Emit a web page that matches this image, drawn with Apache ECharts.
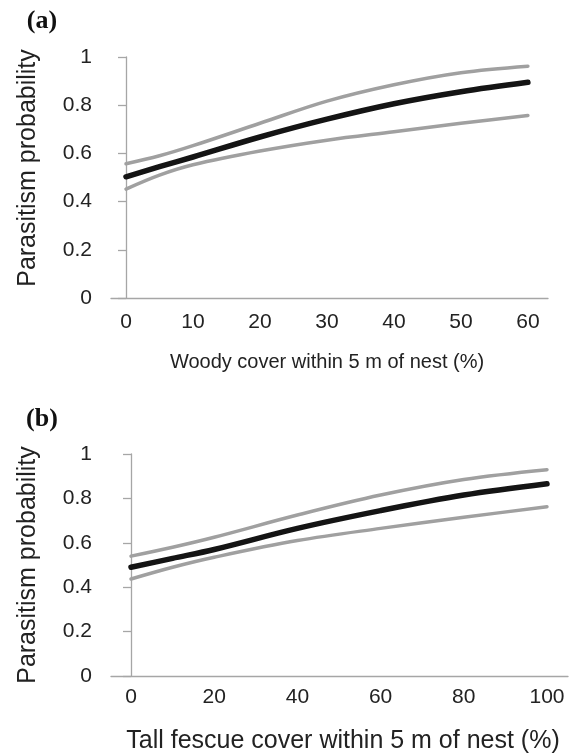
<!DOCTYPE html>
<html>
<head>
<meta charset="utf-8">
<script src="https://cdn.jsdelivr.net/npm/echarts@6/dist/echarts.min.js"></script>
<style>
    html, body { margin: 0; padding: 0; background: #fff; }
    #chart { width: 575px; height: 754px; }
</style>
</head>
<body>
<div id="chart"></div>
<script>
// panel (a): woody cover
var woodyX     = [0, 5, 10, 20, 30, 40, 50, 60];
var woodyMean  = [0.503, 0.545, 0.585, 0.668, 0.742, 0.806, 0.856, 0.895];
var woodyUpper = [0.557, 0.590, 0.632, 0.725, 0.817, 0.885, 0.935, 0.962];
var woodyLower = [0.452, 0.510, 0.553, 0.610, 0.655, 0.690, 0.725, 0.757];
var woodyTicks = [0, 10, 20, 30, 40, 50, 60];

// panel (b): tall fescue cover
var fescueX     = [0, 10, 20, 40, 60, 80, 100];
var fescueMean  = [0.490, 0.530, 0.570, 0.665, 0.745, 0.815, 0.866];
var fescueUpper = [0.540, 0.580, 0.625, 0.725, 0.815, 0.885, 0.929];
var fescueLower = [0.437, 0.490, 0.535, 0.610, 0.665, 0.715, 0.762];
var fescueTicks = [0, 20, 40, 60, 80, 100];

var yTitle = "Parasitism probability";
var woodyTitle = "Woody cover within 5 m of nest (%)";
var fescueTitle = "Tall fescue cover within 5 m of nest (%)";

var sans = "'Liberation Sans', Arial, sans-serif";
var axisGray = "#a6a6a6";

function pairs(xs, ys) {
    return xs.map(function(x, i) { return [x, ys[i]]; });
}

function curve(idx, xs, ys, color, width) {
    return {
        type: 'line',
        xAxisIndex: idx,
        yAxisIndex: idx,
        data: pairs(xs, ys),
        smooth: 0.35,
        showSymbol: false,
        silent: true,
        lineStyle: { color: color, width: width, cap: 'round', join: 'round' }
    };
}

function xAxis(idx, min, max, ticks, margin) {
    return {
        type: 'value',
        gridIndex: idx,
        min: min,
        max: max,
        splitLine: { show: false },
        axisLine: { show: true, lineStyle: { color: axisGray, width: 1.3 } },
        axisTick: { show: false },
        axisLabel: {
            customValues: ticks,
            margin: margin,
            color: '#222',
            fontSize: 21,
            fontFamily: sans
        }
    };
}

function yAxis(idx) {
    return {
        type: 'value',
        gridIndex: idx,
        min: 0,
        max: 1,
        interval: 0.2,
        splitLine: { show: false },
        axisLine: { show: true, lineStyle: { color: axisGray, width: 1.3 } },
        axisTick: { show: true, length: 8, lineStyle: { color: axisGray, width: 1.3 } },
        axisLabel: {
            margin: 19,
            color: '#222',
            fontSize: 21,
            fontFamily: sans,
            formatter: function(v) { return String(+v.toFixed(1)); }
        }
    };
}

function text(x, y, str, size, rotate) {
    return {
        type: 'text',
        x: x,
        y: y,
        rotation: rotate ? Math.PI / 2 : 0,
        style: {
            text: str,
            fill: '#222',
            font: size + 'px ' + sans,
            align: 'center',
            verticalAlign: 'middle'
        }
    };
}

function panelLabel(x, y, str) {
    return {
        type: 'text',
        x: x,
        y: y,
        style: {
            text: str,
            fill: '#111',
            font: 'bold 26px "Liberation Serif", "Times New Roman", serif',
            align: 'center',
            verticalAlign: 'middle'
        }
    };
}

var chart = echarts.init(document.getElementById('chart'), null, { renderer: 'canvas' });

chart.setOption({
    animation: false,
    backgroundColor: '#fff',
    grid: [
        { left: 111, top: 57, width: 437, height: 241 },
        { left: 111, top: 454, width: 457, height: 222 }
    ],
    xAxis: [
        xAxis(0, -2.24, 63.0, woodyTicks, 14),
        xAxis(1, -4.81, 105.05, fescueTicks, 11)
    ],
    yAxis: [yAxis(0), yAxis(1)],
    series: [
        curve(0, woodyX, woodyUpper, '#a0a0a0', 3.5),
        curve(0, woodyX, woodyLower, '#a0a0a0', 3.5),
        curve(0, woodyX, woodyMean, '#141414', 5.5),
        curve(1, fescueX, fescueUpper, '#a0a0a0', 3.5),
        curve(1, fescueX, fescueLower, '#a0a0a0', 3.5),
        curve(1, fescueX, fescueMean, '#141414', 5.5)
    ],
    graphic: [
        panelLabel(42, 21, '(a)'),
        panelLabel(42, 419, '(b)'),
        text(28, 168, yTitle, 25, true),
        text(28, 565, yTitle, 25, true),
        text(327, 362, woodyTitle, 20),
        text(343, 741, fescueTitle, 25)
    ]
});
</script>
</body>
</html>
